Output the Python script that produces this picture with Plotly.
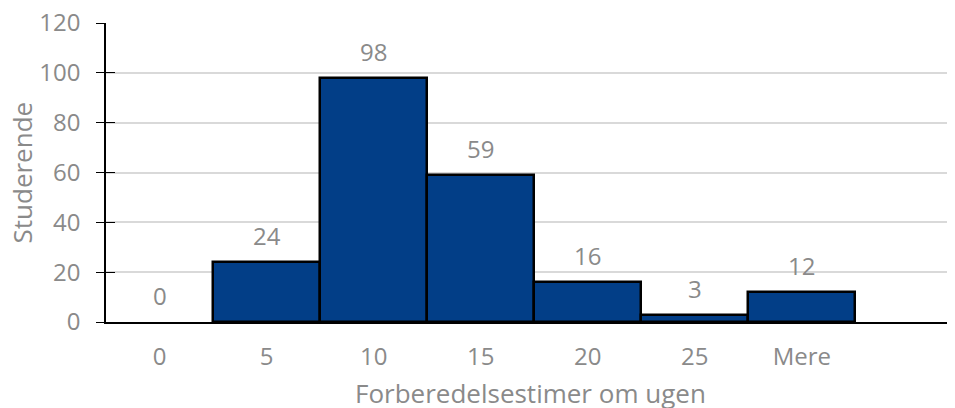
import plotly.graph_objects as go

categories = ["0", "5", "10", "15", "20", "25", "Mere"]
values = [0, 24, 98, 59, 16, 3, 12]
y_ticks = [0, 20, 40, 60, 80, 100, 120]

x_title = "Forberedelsestimer om ugen"
y_title = "Studerende"

BAR = "#023E87"
GREY = "#8a8a8a"
FONT = "Open Sans"
FS = 24
FT = 26

xpos = list(range(len(categories)))

fig = go.Figure()
fig.add_trace(go.Bar(
    x=xpos, y=values, width=1.0,
    marker=dict(color=BAR, line=dict(color="black",
                                     width=[0 if v == 0 else 2.5 for v in values])),
    hoverinfo="skip",
))
# helper trace for inner half of crossing ticks
fig.add_trace(go.Scatter(x=[xpos[0]], y=[0], yaxis="y2", mode="markers",
                         marker=dict(opacity=0), hoverinfo="skip", showlegend=False))

for xi, v in zip(xpos, values):
    fig.add_annotation(x=xi, y=v, text=str(v), showarrow=False,
                       yanchor="bottom", yshift=8,
                       font=dict(family=FONT, size=FS, color=GREY))

# axis titles
fig.add_annotation(xref="paper", yref="paper", x=0.5, y=0, yshift=-71,
                   xanchor="center", yanchor="middle", showarrow=False,
                   text=x_title, font=dict(family=FONT, size=FT, color=GREY))
fig.add_annotation(xref="paper", yref="paper", x=0, y=0.5, xshift=-85,
                   xanchor="center", yanchor="middle", showarrow=False,
                   textangle=-90,
                   text=y_title, font=dict(family=FONT, size=FT, color=GREY))

YR = [0, 120]

# page body has an 8px default margin, so the figure is offset by (8, 8)
fig.update_layout(
    width=947, height=400,
    margin=dict(l=98, r=0, t=15, b=86),
    plot_bgcolor="white", paper_bgcolor="white",
    showlegend=False,
    bargap=0,
    font=dict(family=FONT, size=FS, color=GREY),
    xaxis=dict(
        tickmode="array", tickvals=xpos, ticktext=categories,
        range=[-0.5, 7.43], showgrid=False, zeroline=False,
        showline=True, linecolor="black", linewidth=1.5,
        ticks="", ticklabelstandoff=12, automargin=False,
        tickfont=dict(family=FONT, size=FS, color=GREY),
    ),
    yaxis=dict(
        range=YR, tickmode="array", tickvals=y_ticks,
        showgrid=True, gridcolor="#d9d9d9", gridwidth=1.5,
        zeroline=False, showline=True, linecolor="black", linewidth=1.5,
        ticks="outside", ticklen=8, tickcolor="black", tickwidth=1,
        ticklabelstandoff=11, automargin=False, ticklabeloverflow="allow",
        tickfont=dict(family=FONT, size=FS, color=GREY),
    ),
    yaxis2=dict(
        overlaying="y", side="left", range=YR,
        tickmode="array", tickvals=y_ticks, showticklabels=False,
        showgrid=False, zeroline=False, showline=False,
        ticks="inside", ticklen=9, tickcolor="black", tickwidth=1,
    ),
)

fig.write_html("out.html")
